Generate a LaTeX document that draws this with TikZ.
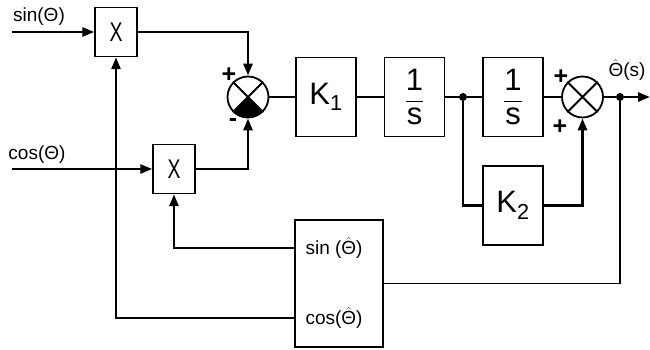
\documentclass[tikz,border=0pt]{standalone}
\usepackage{fontspec}
\usepackage{amsmath}
\setmainfont{Liberation Sans}
\usetikzlibrary{arrows.meta}
\newcommand{\thhat}{\ensuremath{\hat{\text{Θ}}}}
\begin{document}
\begin{tikzpicture}[x=1pt,y=1pt,
    blk/.style={draw, line width=1.4pt, inner sep=0pt},
    mul/.style={blk, minimum width=42pt, minimum height=49pt, font=\fontsize{27}{30}\selectfont},
    gain/.style={blk, minimum width=60pt, minimum height=79pt, font=\fontsize{31}{34}\selectfont},
    sum/.style={circle, draw, line width=1.8pt, minimum size=41pt, inner sep=0pt},
    thk/.style={line width=2.6pt},
    thn/.style={line width=1.3pt},
    arr/.style={-{Triangle[length=12pt,width=9pt]}},
    jdot/.style={circle, fill, inner sep=0pt, minimum size=8pt},
    lbl/.style={font=\fontsize{19}{22}\selectfont},
    sgn/.style={font=\bfseries\fontsize{25}{27}\selectfont, inner sep=0pt}]

\useasboundingbox (0,0) rectangle (650,349);

\node[mul] (ma) at (116,317) {\scalebox{0.72}[1]{X}};
\node[mul] (mb) at (174,180) {\scalebox{0.72}[1]{X}};
\node[sum] (s1) at (248,252) {};
\node[gain] (k1) at (326,252) {K\textsubscript{1}};
\node[gain] (i1) at (414.5,252) {$\dfrac{\text{1}}{\text{s}}$};
\node[jdot] (d1) at (463,252) {};
\node[gain] (i2) at (513,252) {$\dfrac{\text{1}}{\text{s}}$};
\node[sum] (s2) at (582.5,252) {};
\node[jdot] (d2) at (620,252) {};
\node[gain] (k2) at (513,143.5) {K\textsubscript{2}};
\node[blk, minimum width=88pt, minimum height=127pt] (trig) at (339,65.5) {};
\node[lbl, anchor=west] (tsin) at (302,101) {sin (\thhat)};
\node[lbl, anchor=west] (tcos) at (302,31) {cos(\thhat)};

\node[lbl] (lsin) at (39,332) {sin(Θ)};
\node[lbl] (lcos) at (37,194) {cos(Θ)};
\node[lbl] (lout) at (627,279) {\thhat(s)};
\node[sgn] (p1) at (229,274) {+};
\node[sgn] (n1) at (233,226) {-};
\node[sgn] (p2) at (561,272) {+};
\node[sgn] (p3) at (560,222) {+};

\coordinate (in1) at (12,317);
\coordinate (in2) at (12,180);
\coordinate (out) at (650,252);
\coordinate (c2) at (d2 |- trig.east);

\draw[line width=1.8pt] (s1.45) -- (s1.225) (s1.135) -- (s1.315);
\fill (s1.center) -- (s1.225) arc[start angle=225, end angle=315, radius=20.5pt] -- cycle;
\draw[line width=1.8pt] (s2.45) -- (s2.225) (s2.135) -- (s2.315);

\draw[thk,arr] (in1) -- (ma);
\draw[thk,arr] (in2) -- (mb);
\draw[thk,arr] (ma.east) -| (s1.north);
\draw[thk,arr] (mb.east) -| (s1.south);
\draw[thn] (s1) -- (k1);
\draw[thn] (k1) -- (i1);
\draw[thn] (i1) -- (d1) -- (i2);
\draw[thn] (i2) -- (s2);
\draw[thk] (s2) -- (d2);
\draw[thk,arr] (d2) -- (out);
\draw[thk] (d1) |- (k2.west);
\draw[thk,arr] (k2.east) -| (s2.south);
\draw[thk] (d2) -- (c2);
\draw[line width=1.6pt] (c2) -- (trig.east);
\draw[thk,arr] (trig.west |- tsin) -| (mb.south);
\draw[thk,arr] (trig.west |- tcos) -| (ma.south);
\end{tikzpicture}
\end{document}
